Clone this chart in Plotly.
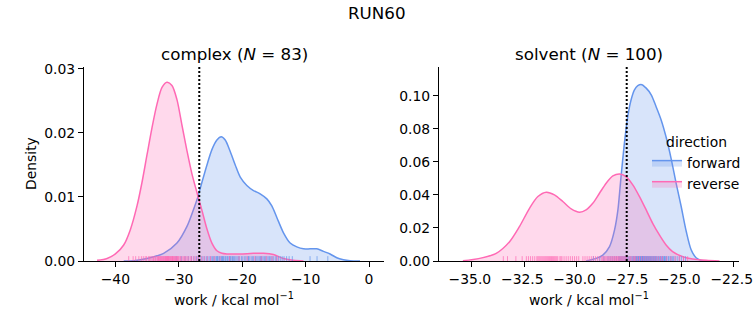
import plotly.graph_objects as go

# ---------------- data ----------------
title_main = "RUN60"
complex_title = "complex (<i>N</i> = 83)"
solvent_title = "solvent (<i>N</i> = 100)"
directions = ["forward", "reverse"]

# KDE curves, complex leg
complex_fwd_x = [-38.69, -37.11, -35.01, -32.39, -30.29, -28.71, -27.66, -27.03, -26.35, -25.56,
                 -24.78, -23.99, -23.31, -22.68, -21.89, -21.10, -20.31, -19.27, -18.22, -17.17,
                 -16.12, -15.33, -14.54, -13.49, -12.44, -11.39, -10.34, -9.29, -8.24, -7.19,
                 -6.14, -5.09, -4.04, -3.00, -1.42]
complex_fwd_density = [0.0, 0.00005, 0.0004, 0.0012, 0.0028, 0.0054, 0.0081, 0.0099, 0.0123, 0.0150,
                       0.0174, 0.0189, 0.0194, 0.0189, 0.0171, 0.0150, 0.0131, 0.0118, 0.0110, 0.0105,
                       0.0097, 0.0086, 0.0068, 0.0044, 0.0028, 0.0022, 0.0019, 0.0019, 0.0019, 0.0015,
                       0.0011, 0.0005, 0.0002, 0.00005, 0.0]

complex_rev_x = [-42.89, -41.31, -40.00, -38.69, -37.64, -36.59, -35.80, -35.01, -34.23, -33.44,
                 -32.65, -31.86, -31.08, -30.29, -29.50, -28.71, -27.93, -27.14, -26.35, -25.56,
                 -24.78, -23.99, -23.20, -22.41, -20.31, -18.21, -16.64, -15.07, -13.49, -11.92,
                 -10.34]
complex_rev_density = [0.0001, 0.0004, 0.0011, 0.0025, 0.0049, 0.0086, 0.0123, 0.0166, 0.0208, 0.0245,
                       0.0271, 0.0279, 0.0274, 0.0252, 0.0212, 0.0172, 0.0136, 0.0107, 0.0079, 0.0050,
                       0.0028, 0.0016, 0.0012, 0.0011, 0.0011, 0.0012, 0.0012, 0.0010, 0.0004, 0.0001,
                       0.0]

# KDE curves, solvent leg
solvent_fwd_x = [-29.55, -29.07, -28.75, -28.43, -28.19, -28.03, -27.88, -27.72, -27.56, -27.40,
                 -27.24, -27.08, -26.89, -26.68, -26.44, -26.21, -25.97, -25.73, -25.49, -25.25,
                 -25.01, -24.77, -24.54, -24.30, -24.06, -23.82]
solvent_fwd_density = [0.0, 0.0016, 0.0036, 0.0087, 0.0188, 0.0309, 0.0511, 0.0713, 0.0875, 0.0976,
                       0.1036, 0.1061, 0.1067, 0.1046, 0.1006, 0.0935, 0.0855, 0.0750, 0.0620, 0.0470,
                       0.0330, 0.0180, 0.0070, 0.0020, 0.0004, 0.0]

solvent_rev_x = [-35.43, -34.63, -33.84, -33.20, -32.73, -32.25, -31.85, -31.45, -31.06, -30.66,
                 -30.26, -29.86, -29.55, -29.23, -28.91, -28.59, -28.27, -27.95, -27.64, -27.32,
                 -27.00, -26.68, -26.37, -26.05, -25.73, -25.42, -24.93, -24.46, -23.82, -23.18]
solvent_rev_density = [0.0002, 0.0016, 0.0046, 0.0117, 0.0208, 0.0319, 0.0390, 0.0416, 0.0400, 0.0360,
                       0.0315, 0.0295, 0.0309, 0.0349, 0.0410, 0.0471, 0.0515, 0.0527, 0.0511, 0.0461,
                       0.0390, 0.0309, 0.0228, 0.0158, 0.0097, 0.0057, 0.0026, 0.0012, 0.0004, 0.0]

# individual work values (rug)
complex_fwd_work = [-30.4, -29.6, -29.0, -28.5, -28.0, -27.6, -27.2, -26.9, -26.5, -26.2,
                    -25.9, -25.6, -25.4, -25.1, -24.9, -24.7, -24.5, -24.3, -24.1, -23.9,
                    -23.8, -23.6, -23.5, -23.3, -23.2, -23.0, -22.9, -22.7, -22.6, -22.4,
                    -22.3, -22.1, -21.9, -21.8, -21.6, -21.4, -21.2, -21.0, -20.8, -20.6,
                    -20.4, -20.1, -19.9, -19.6, -19.4, -19.1, -18.9, -18.6, -18.4, -18.2,
                    -17.9, -17.7, -17.5, -17.3, -17.1, -16.9, -16.7, -16.5, -16.3, -16.1,
                    -15.9, -15.7, -15.5, -15.3, -15.1, -14.8, -14.6, -14.3, -14.0, -13.7,
                    -13.4, -13.0, -12.6, -12.1, -9.3, -8.2, -6.5, -24.0, -23.1, -22.0,
                    -21.5, -19.0, -17.0]
complex_rev_work = [-37.9, -37.2, -36.8, -36.3, -35.9, -35.6, -35.3, -35.1, -34.8, -34.6,
                    -34.4, -34.2, -34.0, -33.9, -33.7, -33.6, -33.4, -33.3, -33.2, -33.0,
                    -32.9, -32.8, -32.7, -32.6, -32.5, -32.4, -32.3, -32.2, -32.1, -32.0,
                    -31.9, -31.8, -31.8, -31.7, -31.6, -31.5, -31.4, -31.3, -31.2, -31.1,
                    -31.0, -30.9, -30.8, -30.7, -30.6, -30.5, -30.4, -30.2, -30.1, -30.0,
                    -29.8, -29.7, -29.5, -29.3, -29.1, -28.9, -28.7, -28.5, -28.2, -28.0,
                    -27.7, -27.4, -27.1, -26.8, -26.4, -26.0, -25.5, -25.0, -24.4, -23.5,
                    -22.0, -20.5, -19.2, -18.0, -17.0, -16.2, -15.3, -14.5, -33.1, -32.0,
                    -31.6, -31.0, -30.3]
solvent_fwd_work = [-29.2, -28.9, -28.7, -28.5, -28.4, -28.3, -28.2, -28.1, -28.0, -27.95,
                    -27.9, -27.85, -27.8, -27.75, -27.7, -27.65, -27.6, -27.55, -27.5, -27.45,
                    -27.4, -27.35, -27.3, -27.25, -27.2, -27.15, -27.1, -27.05, -27.0, -26.95,
                    -26.9, -26.85, -26.8, -26.75, -26.7, -26.65, -26.6, -26.55, -26.5, -26.45,
                    -26.4, -26.35, -26.3, -26.25, -26.2, -26.15, -26.1, -26.05, -26.0, -25.95,
                    -25.9, -25.85, -25.8, -25.75, -25.7, -25.6, -25.5, -25.4, -25.3, -25.2,
                    -25.1, -25.0, -24.9, -24.8, -27.3, -27.2, -27.1, -27.0, -26.95, -26.9,
                    -26.9, -26.85, -26.8, -26.8, -26.75, -26.7, -26.65, -26.6, -26.55, -26.5,
                    -26.45, -26.4, -26.3, -26.2, -26.1, -26.0, -25.9, -25.8, -25.7, -25.6,
                    -25.5, -25.4, -27.15, -27.05, -26.85, -26.7, -26.6, -26.5, -26.35, -26.25]
solvent_rev_work = [-33.5, -33.3, -32.9, -32.6, -32.4, -32.2, -32.1, -32.0, -31.9, -31.85,
                    -31.8, -31.7, -31.65, -31.6, -31.5, -31.45, -31.4, -31.35, -31.3, -31.2,
                    -31.15, -31.1, -31.0, -30.9, -30.8, -30.7, -30.6, -30.5, -30.4, -30.3,
                    -30.2, -30.0, -29.9, -29.7, -29.6, -29.4, -29.2, -29.1, -29.0, -28.9,
                    -28.8, -28.7, -28.65, -28.6, -28.5, -28.45, -28.4, -28.35, -28.3, -28.25,
                    -28.2, -28.15, -28.1, -28.05, -28.0, -27.95, -27.9, -27.85, -27.8, -27.75,
                    -27.7, -27.65, -27.6, -27.5, -27.4, -27.3, -27.2, -27.1, -27.0, -26.9,
                    -26.8, -26.7, -26.6, -26.5, -26.4, -26.3, -26.1, -25.9, -25.7, -25.5,
                    -25.3, -25.1, -24.9, -24.7, -31.55, -31.25, -31.05, -30.95, -30.75, -28.55,
                    -28.75, -27.45, -27.25, -29.5, -29.3, -31.75, -32.3, -30.1, -26.2, -26.0]

# dotted reference lines (work estimate)
complex_ref = -26.77
solvent_ref = -27.61

# ---------------- styling ----------------
W, H = 753, 325
FONT = "DejaVu Sans"
TICK_SIZE = 13.9
TITLE_SIZE = 16.7
BLUE = "#6495ED"
PINK = "#FF69B4"
BLUE_FILL = "rgba(100,149,237,0.25)"
PINK_FILL = "rgba(255,105,180,0.25)"
BLUE_RUG = "rgba(100,149,237,0.7)"
PINK_RUG = "rgba(255,105,180,0.7)"

x1_range = [-44.95, 2.36]
y1_range = [0, 0.0303]
x2_range = [-36.57, -22.25]
y2_range = [0, 0.1174]
RUG_FRAC = 0.025

fig = go.Figure()


def add_kde(x, y, color, fill, name, xa, ya, show):
    fig.add_trace(go.Scatter(
        x=x, y=y, mode="lines", line=dict(color=color, width=1.5, shape="spline", smoothing=0.8),
        fill="tozeroy", fillcolor=fill, name=name, legendgroup=name, showlegend=show,
        xaxis=xa, yaxis=ya, hoverinfo="skip"))


def add_rug(vals, color, ymax, xa, ya, name):
    h = RUG_FRAC * ymax
    xs, ys = [], []
    for v in vals:
        xs += [v, v, None]
        ys += [0, h, None]
    fig.add_trace(go.Scatter(x=xs, y=ys, mode="lines", line=dict(color=color, width=1),
                             showlegend=False, legendgroup=name, xaxis=xa, yaxis=ya,
                             hoverinfo="skip"))


add_kde(complex_fwd_x, complex_fwd_density, BLUE, BLUE_FILL, directions[0], "x", "y", True)
add_kde(complex_rev_x, complex_rev_density, PINK, PINK_FILL, directions[1], "x", "y", True)
add_kde(solvent_fwd_x, solvent_fwd_density, BLUE, BLUE_FILL, directions[0], "x2", "y2", False)
add_kde(solvent_rev_x, solvent_rev_density, PINK, PINK_FILL, directions[1], "x2", "y2", False)

add_rug(complex_fwd_work, BLUE_RUG, y1_range[1], "x", "y", directions[0])
add_rug(complex_rev_work, PINK_RUG, y1_range[1], "x", "y", directions[1])
add_rug(solvent_fwd_work, BLUE_RUG, y2_range[1], "x2", "y2", directions[0])
add_rug(solvent_rev_work, PINK_RUG, y2_range[1], "x2", "y2", directions[1])

for xref, yref, val in [("x", "y domain", complex_ref), ("x2", "y2 domain", solvent_ref)]:
    fig.add_shape(type="line", xref=xref, yref=yref, x0=val, x1=val, y0=0, y1=1,
                  line=dict(color="black", width=2, dash="2px,2px"))

ydom = [(H - 261) / H, (H - 67) / H]
common_ax = dict(showline=True, linecolor="black", linewidth=1, ticks="outside", ticklen=5,
                 tickwidth=1, tickcolor="black", showgrid=False, zeroline=False,
                 ticklabeloverflow="allow",
                 tickfont=dict(family=FONT, size=TICK_SIZE, color="black"), mirror=False)

fig.update_layout(
    width=W, height=H, autosize=False,
    margin=dict(l=0, r=0, t=0, b=0, autoexpand=False),
    paper_bgcolor="white", plot_bgcolor="rgba(0,0,0,0)",
    font=dict(family=FONT, size=TICK_SIZE, color="black"),
    xaxis=dict(domain=[84 / W, 384 / W], range=x1_range, tickvals=[-40, -30, -20, -10, 0],
               anchor="y", **common_ax),
    yaxis=dict(domain=ydom, range=y1_range, tickvals=[0, 0.01, 0.02, 0.03], tickformat=".2f",
               anchor="x", **common_ax),
    xaxis2=dict(domain=[439 / W, 739 / W], range=x2_range,
                tickvals=[-35, -32.5, -30, -27.5, -25, -22.5], tickformat=".1f",
                anchor="y2", ticklabelshift=-2, **common_ax),
    yaxis2=dict(domain=ydom, range=y2_range, tickvals=[0, 0.02, 0.04, 0.06, 0.08, 0.10],
                tickformat=".2f", anchor="x2", **common_ax),
    legend=dict(x=647 / W, y=(H - 129) / H, xanchor="left", yanchor="top",
                bgcolor="rgba(0,0,0,0)", borderwidth=0, tracegroupgap=0, itemwidth=30,
                font=dict(family=FONT, size=TICK_SIZE, color="black"),
                title=dict(text="direction", side="top center",
                           font=dict(family=FONT, size=TICK_SIZE, color="black"))),
    showlegend=True,
)

ann = [
    dict(text=title_main, x=377 / W, y=(H - 13) / H, size=TITLE_SIZE),
    dict(text=complex_title, x=234 / W, y=(H - 54) / H, size=TITLE_SIZE),
    dict(text=solvent_title, x=589 / W, y=(H - 54) / H, size=TITLE_SIZE),
    dict(text="work / kcal mol<sup>\u22121</sup>", x=234 / W, y=(H - 299) / H, size=TICK_SIZE),
    dict(text="work / kcal mol<sup>\u22121</sup>", x=589 / W, y=(H - 299) / H, size=TICK_SIZE),
]
for a in ann:
    fig.add_annotation(text=a["text"], x=a["x"], y=a["y"], xref="paper", yref="paper",
                       xanchor="center", yanchor="middle", showarrow=False,
                       font=dict(family=FONT, size=a["size"], color="black"))
fig.add_annotation(text="Density", x=31 / W, y=(H - 164) / H, xref="paper", yref="paper",
                   xanchor="center", yanchor="middle", textangle=-90, showarrow=False,
                   font=dict(family=FONT, size=TICK_SIZE, color="black"))

fig.write_html("out.html")
